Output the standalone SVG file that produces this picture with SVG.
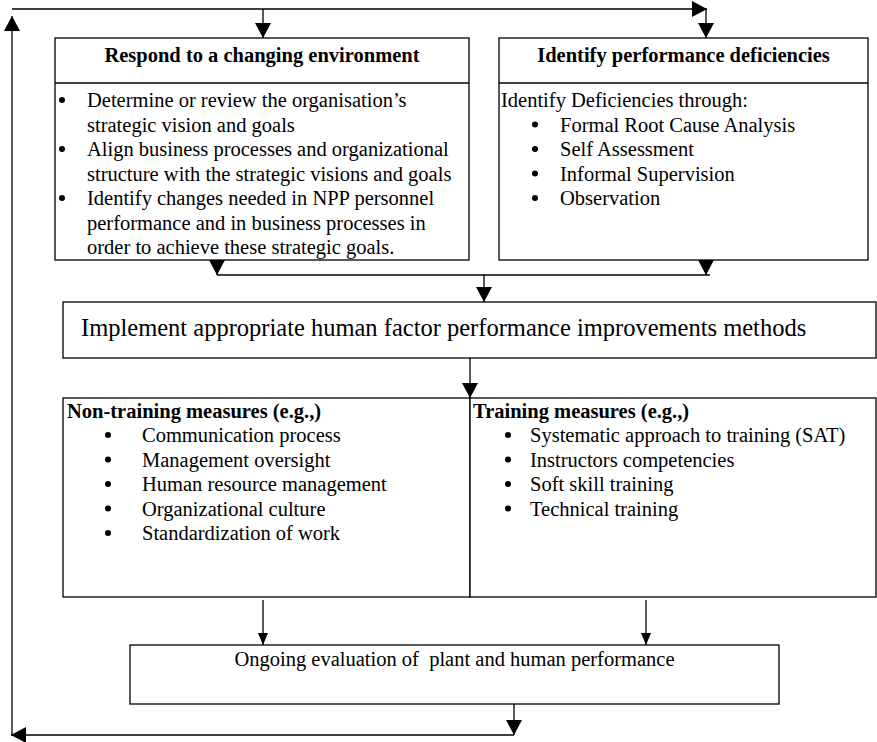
<svg xmlns="http://www.w3.org/2000/svg" width="877" height="742" viewBox="0 0 877 742">
<style>
  .box { fill: #fff; stroke: #000; stroke-width: 1.3; }
  .ln { fill: none; stroke: #000; stroke-width: 1.3; }
  .t { font-family: "Liberation Serif", "Times New Roman", serif; font-size: 20.5px; fill: #000; }
  .b { font-weight: bold; }
  .big { font-size: 24.5px; }
  .mid { text-anchor: middle; }
  .dot { fill: #000; }
</style>
<defs>
  <marker id="ah" viewBox="0 0 15 16" refX="15" refY="8" markerWidth="15" markerHeight="16" markerUnits="userSpaceOnUse" orient="auto">
    <path d="M0,0 L15,8 L0,16 z" fill="#000"/>
  </marker>
  <marker id="as" viewBox="0 0 12 10" refX="12" refY="5" markerWidth="12" markerHeight="10" markerUnits="userSpaceOnUse" orient="auto">
    <path d="M0,0 L12,5 L0,10 z" fill="#000"/>
  </marker>
</defs>

<g id="respond">
  <rect class="box" x="55" y="38" width="414" height="222"/>
  <line class="ln" x1="55" y1="83" x2="469" y2="83"/>
  <text class="t b mid" x="262" y="62">Respond to a changing environment</text>
  <circle class="dot" cx="62" cy="100" r="3"/>
  <text class="t" x="87" y="107">Determine or review the organisation’s</text>
  <text class="t" x="87" y="131.5">strategic vision and goals</text>
  <circle class="dot" cx="62" cy="149" r="3"/>
  <text class="t" x="87" y="156">Align business processes and organizational</text>
  <text class="t" x="87" y="180.5">structure with the strategic visions and goals</text>
  <circle class="dot" cx="62" cy="198" r="3"/>
  <text class="t" x="87" y="205">Identify changes needed in NPP personnel</text>
  <text class="t" x="87" y="229.5">performance and in business processes in</text>
  <text class="t" x="87" y="254">order to achieve these strategic goals.</text>
</g>

<g id="identify">
  <rect class="box" x="499" y="38" width="369" height="222"/>
  <line class="ln" x1="499" y1="83" x2="868" y2="83"/>
  <text class="t b mid" x="683.5" y="62">Identify performance deficiencies</text>
  <text class="t" x="501" y="107">Identify Deficiencies through:</text>
  <circle class="dot" cx="535" cy="124.5" r="3"/>
  <text class="t" x="560" y="131.5">Formal Root Cause Analysis</text>
  <circle class="dot" cx="535" cy="149" r="3"/>
  <text class="t" x="560" y="156">Self Assessment</text>
  <circle class="dot" cx="535" cy="173.5" r="3"/>
  <text class="t" x="560" y="180.5">Informal Supervision</text>
  <circle class="dot" cx="535" cy="198" r="3"/>
  <text class="t" x="560" y="205">Observation</text>
</g>

<g id="implement">
  <rect class="box" x="63" y="302" width="813" height="56"/>
  <text class="t big" x="81" y="336">Implement appropriate human factor performance improvements methods</text>
</g>

<g id="nontraining">
  <rect class="box" x="63" y="398" width="407" height="199"/>
  <text class="t b" x="67" y="418">Non-training measures (e.g.,)</text>
  <circle class="dot" cx="108" cy="435" r="3"/>
  <text class="t" x="142" y="442">Communication process</text>
  <circle class="dot" cx="108" cy="459.5" r="3"/>
  <text class="t" x="142" y="466.5">Management oversight</text>
  <circle class="dot" cx="108" cy="484" r="3"/>
  <text class="t" x="142" y="491">Human resource management</text>
  <circle class="dot" cx="108" cy="508.5" r="3"/>
  <text class="t" x="142" y="515.5">Organizational culture</text>
  <circle class="dot" cx="108" cy="533" r="3"/>
  <text class="t" x="142" y="540">Standardization of work</text>
</g>

<g id="training">
  <rect class="box" x="470" y="398" width="406" height="199"/>
  <text class="t b" x="473" y="418">Training measures (e.g.,)</text>
  <circle class="dot" cx="508" cy="435" r="3"/>
  <text class="t" x="530" y="442">Systematic approach to training (SAT)</text>
  <circle class="dot" cx="508" cy="459.5" r="3"/>
  <text class="t" x="530" y="466.5">Instructors competencies</text>
  <circle class="dot" cx="508" cy="484" r="3"/>
  <text class="t" x="530" y="491">Soft skill training</text>
  <circle class="dot" cx="508" cy="508.5" r="3"/>
  <text class="t" x="530" y="515.5">Technical training</text>
</g>

<g id="ongoing">
  <rect class="box" x="130" y="645" width="649" height="59"/>
  <text class="t mid" x="454.5" y="666" xml:space="preserve">Ongoing evaluation of  plant and human performance</text>
</g>

<g id="connectors">
  <path class="ln" d="M12,735 V16" marker-end="url(#ah)"/>
  <path class="ln" d="M12,9 H707" marker-end="url(#ah)"/>
  <path class="ln" d="M263,9 V38" marker-end="url(#ah)"/>
  <path class="ln" d="M706,9 V38" marker-end="url(#ah)"/>
  <path class="ln" d="M217,260 V275" marker-end="url(#ah)"/>
  <path class="ln" d="M706,260 V275" marker-end="url(#ah)"/>
  <path class="ln" d="M217,275 H710"/>
  <path class="ln" d="M484,275 V302" marker-end="url(#ah)"/>
  <path class="ln" d="M470,358 V398" marker-end="url(#ah)"/>
  <path class="ln" d="M263,600 V645" marker-end="url(#as)"/>
  <path class="ln" d="M646,600 V645" marker-end="url(#as)"/>
  <path class="ln" d="M514,704 V735" marker-end="url(#ah)"/>
  <path class="ln" d="M514,735 H11" marker-end="url(#ah)"/>
</g>
</svg>
